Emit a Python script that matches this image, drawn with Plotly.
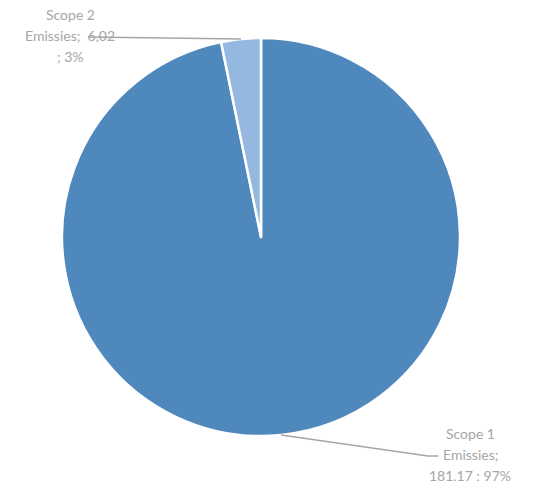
import math
import plotly.graph_objects as go

labels = ["Scope 1 Emissies", "Scope 2 Emissies"]
values = [181.17, 6.02]
label_lines = [["Scope 1", "Emissies;", "181,17 ; 97%"], ["Scope 2", "Emissies;  6,02", "; 3%"]]
colors = ["#4F88BC", "#95B8E0"]

W, H = 537, 481
OFF = 8  # page body margin in the screenshot
cx, cy, r = 261 - OFF, 237 - OFF, 199  # pixel geometry of pie

fig = go.Figure(go.Pie(
    labels=labels, values=values, sort=False, direction="clockwise", rotation=0,
    marker=dict(colors=colors, line=dict(color="white", width=2.5)),
    textinfo="none", hoverinfo="label+value+percent", showlegend=False,
    domain=dict(x=[(cx - r) / W, (cx + r) / W], y=[1 - (cy + r) / H, 1 - (cy - r) / H]),
))

total = sum(values)
cum = 0
# label centres (first line, pixels) and leader-line elbow positions
label_pos = [(470 - OFF, 433 - OFF), (70 - OFF, 14 - OFF)]
line_gap = 21
elbows = [[(428 - OFF, 456 - OFF), (438 - OFF, 456 - OFF)], [(88 - OFF, 37 - OFF)]]
for i, v in enumerate(values):
    mid = (cum + v / 2) / total * 2 * math.pi
    cum += v
    px = cx + r * math.sin(mid)
    py = cy - r * math.cos(mid)
    pts = [(px, py)] + elbows[i]
    for (x0, y0), (x1, y1) in zip(pts[:-1], pts[1:]):
        fig.add_shape(type="line", xref="paper", yref="paper",
                      x0=x0 / W, y0=1 - y0 / H, x1=x1 / W, y1=1 - y1 / H,
                      line=dict(color="#A6A6A6", width=1.5))
    lx, ly = label_pos[i]
    for j, t in enumerate(label_lines[i]):
        fig.add_annotation(x=lx / W, y=1 - (ly + j * line_gap) / H, xref="paper", yref="paper",
                           text=t, showarrow=False, align="center",
                           xanchor="center", yanchor="middle",
                           font=dict(family="Lato, Open Sans, sans-serif", size=14, color="#A6A6A6"))

fig.update_layout(width=W, height=H, margin=dict(l=0, r=0, t=0, b=0),
                  paper_bgcolor="white", plot_bgcolor="white")
fig.write_html("out.html")
